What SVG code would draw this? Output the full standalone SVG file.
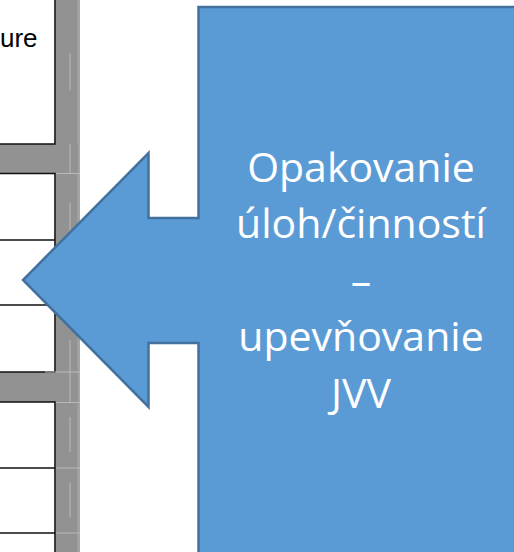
<svg xmlns="http://www.w3.org/2000/svg" width="514" height="552" viewBox="0 0 514 552">
  <style>
    .bar{fill:#929292}
    .fringe{fill:#a4a4a4}
    .rule{stroke:#111;stroke-width:1.6;fill:none}
    .ghost{stroke:#b9b9b9;stroke-width:1;fill:none}
    .callout{fill:#5B9BD5;stroke:#41719C;stroke-width:2.5;stroke-linejoin:miter}
    .label{font-family:"Open Sans","Noto Sans",sans-serif;font-size:41px;fill:#fff;text-anchor:middle}
    .cellText{font-family:"Liberation Sans",Arial,sans-serif;font-size:26px;fill:#000}
  </style>

  <rect width="514" height="552" fill="#fff"/>

  <!-- table fragment on the left: white cells, grey separators -->
  <g id="table">
    <rect class="bar" x="55.5" y="0" width="24.5" height="552"/>
    <rect class="fringe" x="77.5" y="0" width="2.5" height="552"/>
    <rect class="bar" x="0" y="144" width="78" height="29.5"/>
    <rect class="bar" x="0" y="372" width="78" height="30"/>

    <path class="rule" d="M0 144H55V0"/>
    <path class="rule" d="M0 173.5H55V372H0"/>
    <path class="rule" d="M0 240H55M0 305H55"/>
    <path class="rule" d="M0 402H55V552"/>
    <path class="rule" d="M0 468H55M0 533H55"/>

    <path class="ghost" d="M70 53V90M70 144V173M70 202V240M70 340V372M70 372V402M70 417V452M70 482V518"/>
    <path class="ghost" d="M56 173.5H80M45 372H80M56 402.5H80M56 468H80M56 533H80"/>

    <text class="cellText" x="0" y="47">ure</text>
  </g>

  <!-- left-arrow callout -->
  <g id="callout">
    <path class="callout" d="M198.5 7H520V560H198.5V343H148.5V407L23 280L148.5 153V218H198.5Z"/>
    <text class="label" x="361" y="182">Opakovanie</text>
    <text class="label" x="361" y="238">úloh/činností</text>
    <text class="label" x="361" y="295">–</text>
    <text class="label" x="361" y="351">upevňovanie</text>
    <text class="label" x="361" y="408">JVV</text>
  </g>
</svg>
